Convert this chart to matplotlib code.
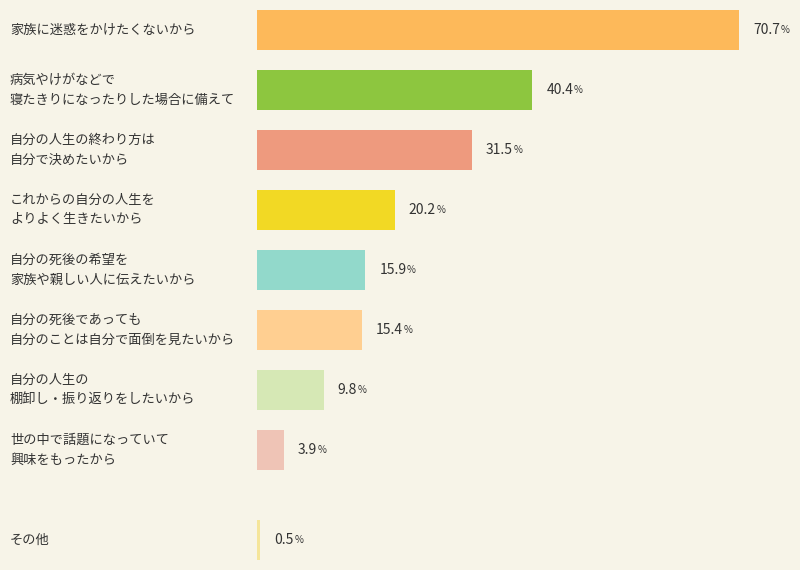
import matplotlib
matplotlib.use("Agg")
import matplotlib.pyplot as plt

plt.rcParams['font.family'] = ['Noto Sans CJK JP', 'DejaVu Sans']

categories = ["家族に迷惑をかけたくないから",
              "病気やけがなどで\n寝たきりになったりした場合に備えて",
              "自分の人生の終わり方は\n自分で決めたいから",
              "これからの自分の人生を\nよりよく生きたいから",
              "自分の死後の希望を\n家族や親しい人に伝えたいから",
              "自分の死後であっても\n自分のことは自分で面倒を見たいから",
              "自分の人生の\n棚卸し・振り返りをしたいから",
              "世の中で話題になっていて\n興味をもったから",
              "その他"]
values = [70.7, 40.4, 31.5, 20.2, 15.9, 15.4, 9.8, 3.9, 0.5]
colors = ["#FDB95A", "#8DC63F", "#EE9A7E", "#F2D924", "#92D9CB",
          "#FFCF91", "#D6E8B5", "#EFC4B6", "#F5E59A"]

bg = "#F7F4E8"
fig = plt.figure(figsize=(8, 5.7), dpi=100, facecolor=bg)
x0 = 257
scale = 482 / 70.7
ax = fig.add_axes([x0 / 800, 0, (800 - x0) / 800, 1])
ax.set_facecolor(bg)
ax.set_xlim(0, (800 - x0) / scale)
ax.set_ylim(570, 0)
ax.axis('off')

ys = [30 + 60 * i for i in range(8)] + [540]
ax.barh(ys, values, height=40, color=colors, left=0)

fig.canvas.draw()
r = fig.canvas.get_renderer()
for y, v, c in zip(ys, values, categories):
    fig.text(10 / 800, 1 - y / 570, c, fontsize=9.5, color="#333333",
             va='center', ha='left', linespacing=1.7)
    t = ax.annotate(f"{v:.1f}", (v, y), xytext=(10, 0), textcoords='offset points',
                    fontsize=10, color="#333333", va='center', ha='left')
    bb = t.get_window_extent(r)
    fig.text((bb.x1 + 0.5) / 800, bb.y0 / 570 + 0.003, "%", fontsize=7, color="#333333",
             va='bottom', ha='left')

fig.savefig("out.png", dpi=100, facecolor=bg)
